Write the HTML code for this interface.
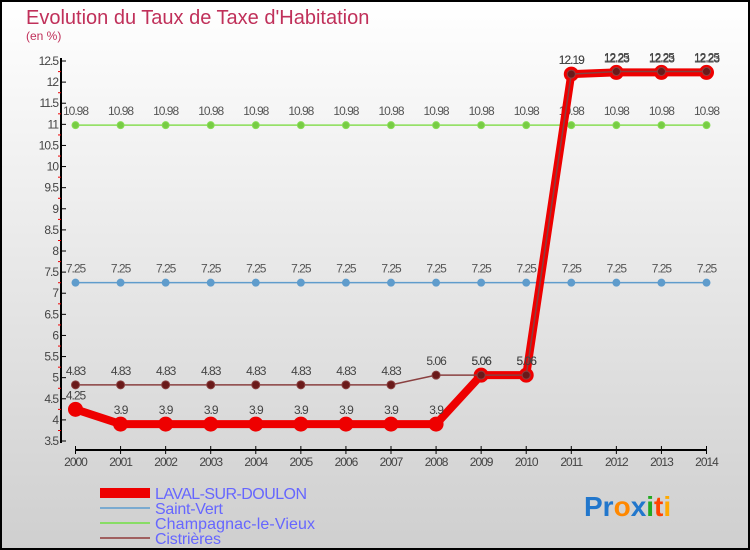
<!DOCTYPE html>
<html><head><meta charset="utf-8"><style>
body{margin:0;width:750px;height:550px;overflow:hidden}
svg{display:block;font-family:"Liberation Sans",sans-serif}
</style></head><body>
<svg id="chart" width="750" height="550">
<defs><linearGradient id="bg" x1="0" y1="0" x2="0" y2="1"><stop offset="0" stop-color="#ffffff"/><stop offset="1" stop-color="#cfcfcf"/></linearGradient></defs>
<rect x="1" y="1" width="748" height="548" fill="url(#bg)" stroke="#000" stroke-width="2"/>
<text x="26" y="24" font-size="20" fill="#c0305a">Evolution du Taux de Taxe d'Habitation</text>
<text x="26" y="40" font-size="12" fill="#c0305a">(en %)</text>
<g id="axes"></g><g id="series"></g>
<g>
<line x1="100" y1="493" x2="150" y2="493" stroke="#ee0000" stroke-width="10"/>
<text x="155" y="499" font-size="16" fill="#6666ff" textLength="152">LAVAL-SUR-DOULON</text>
<line x1="100" y1="508" x2="150" y2="508" stroke="#7aaad0" stroke-width="2"/>
<text x="155" y="514" font-size="16" fill="#6666ff" textLength="68">Saint-Vert</text>
<line x1="100" y1="523" x2="150" y2="523" stroke="#88dd66" stroke-width="2"/>
<text x="155" y="529" font-size="16" fill="#6666ff" textLength="160">Champagnac-le-Vieux</text>
<line x1="100" y1="538" x2="150" y2="538" stroke="#a06060" stroke-width="2"/>
<text x="155" y="544" font-size="16" fill="#6666ff" textLength="66">Cistrières</text>
</g>
<text x="584" y="516" font-size="28" font-weight="bold"><tspan fill="#2277cc">Pr</tspan><tspan fill="#ff8800">o</tspan><tspan fill="#2277cc">x</tspan><tspan fill="#22aa22">i</tspan><tspan fill="#ff4400">t</tspan><tspan fill="#ffaa00">i</tspan></text>
</svg>
<script>
const years=[2000,2001,2002,2003,2004,2005,2006,2007,2008,2009,2010,2011,2012,2013,2014];
const yTicks=[3.5,4,4.5,5,5.5,6,6.5,7,7.5,8,8.5,9,9.5,10,10.5,11,11.5,12,12.5];
const laval=[4.25,3.9,3.9,3.9,3.9,3.9,3.9,3.9,3.9,5.06,5.06,12.19,12.23,12.23,12.23];
const saintVert=[7.25,7.25,7.25,7.25,7.25,7.25,7.25,7.25,7.25,7.25,7.25,7.25,7.25,7.25,7.25];
const champagnac=[10.98,10.98,10.98,10.98,10.98,10.98,10.98,10.98,10.98,10.98,10.98,10.98,10.98,10.98,10.98];
const cistrieres=[4.83,4.83,4.83,4.83,4.83,4.83,4.83,4.83,5.06,5.06,5.06,12.19,12.25,12.25,12.25];
const NS="http://www.w3.org/2000/svg";
const X=i=>75.5+i*(706.5-75.5)/(years.length-1);
const Y=v=>441-(v-3.5)*(441-61)/9;
function mk(tag,attrs,parent,text){const e=document.createElementNS(NS,tag);for(const k in attrs)e.setAttribute(k,attrs[k]);if(text!==undefined)e.textContent=text;parent.appendChild(e);return e;}
const ax=document.getElementById('axes');
let e=mk('line',{x1:61,y1:58,x2:61,y2:443,stroke:'#000','stroke-width':2},ax);


e=mk('line',{x1:75,y1:450,x2:707,y2:450,stroke:'#000','stroke-width':2},ax);


yTicks.forEach(t=>{const y=Y(t);
 mk('line',{x1:61,y1:y,x2:66,y2:y,stroke:'#000'},ax);
 if(t<12.5)mk('line',{x1:58,y1:y-10.5,x2:61,y2:y-10.5,stroke:'#e00'},ax);
 const l=mk('text',{x:58,y:y+4,'font-size':12,fill:'#444','text-anchor':'end','letter-spacing':'-1'},ax,String(t));
 
 });
years.forEach((yr,i)=>{const x=X(i);
 mk('line',{x1:x,y1:446,x2:x,y2:454,stroke:'#000'},ax);
 const l=mk('text',{x:x,y:466,'font-size':12,fill:'#444','text-anchor':'middle','letter-spacing':'-1'},ax,String(yr));
 
 });
const sg=document.getElementById('series');
function series(vals,name,color,w,r,dot,fontCol){
 const g=mk('g',{},sg);
 
 
 mk('polyline',{points:vals.map((v,i)=>X(i)+','+Y(v)).join(' '),fill:'none',stroke:color,'stroke-width':w,'stroke-linejoin':'round'},g);
 vals.forEach((v,i)=>{const c=mk('circle',{cx:X(i),cy:Y(v),r:r,fill:dot,stroke:color},g);
  
  
  const t=mk('text',{x:X(i),y:Y(v)-10,'font-size':12,fill:fontCol,'text-anchor':'middle','letter-spacing':'-1'},g,String(v));
  
  });
}
series(saintVert,'saint-vert-series','#5f9ccc',1.5,3.5,'#5f9ccc','#555');
series(champagnac,'champagnac-series','#88dd55',1.5,3.5,'#77cc44','#555');
series(laval,'laval-series','#ee0000',8,7,'#ee0000','#444');
series(cistrieres,'cistrieres-series','#8a4040',1.5,4,'#6a1a1a','#444');
</script>
</body></html>
